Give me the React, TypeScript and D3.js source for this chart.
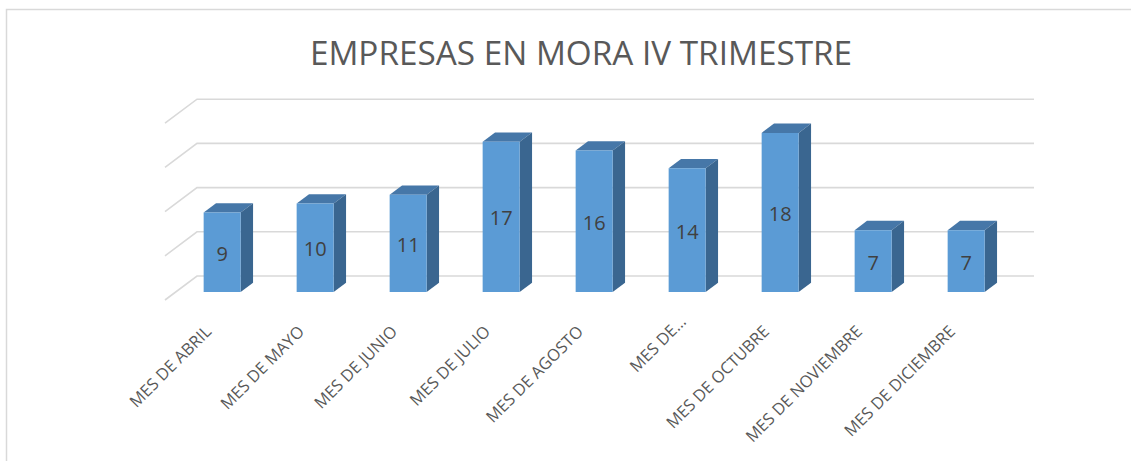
import React from "react";
import * as d3 from "d3";

const categories = [
  "MES DE ABRIL",
  "MES DE MAYO",
  "MES DE JUNIO",
  "MES DE JULIO",
  "MES DE AGOSTO",
  "MES DE…",
  "MES DE OCTUBRE",
  "MES DE NOVIEMBRE",
  "MES DE DICIEMBRE",
];
const values = [9, 10, 11, 17, 16, 14, 18, 7, 7];
const gridValues = [0, 5, 10, 15, 20];
const title = "EMPRESAS EN MORA IV TRIMESTRE";

const App = () => {
  const W = 1131;
  const H = 461;

  // floor front edge and 3d depth offset
  const floorLeft = 165;
  const floorRight = 1002;
  const floorY = 300;
  const depthX = 32;
  const depthY = 24;
  const zFront = 0.333;
  const zBack = 0.72;

  const x = d3
    .scaleBand()
    .domain(categories)
    .range([floorLeft, floorRight])
    .paddingInner(0.602)
    .paddingOuter(0.301);

  const y = d3.scaleLinear().domain([0, 20]).range([0, 176.8]);

  // oblique projection: (x on front plane, value, depth 0..1)
  const proj = (px: number, v: number, z: number): [number, number] => [
    px + depthX * z,
    floorY - y(v) - depthY * z,
  ];

  const pts = (arr: [number, number][]) => arr.map((p) => p.join(",")).join(" ");

  return (
    <svg
      width={W}
      height={H}
      style={{ position: "absolute", left: 0, top: 0, background: "#fff" }}
    >
      <rect x={6.5} y={9.5} width={W} height={H} fill="#fff" stroke="#d9d9d9" strokeWidth={1.5} />

      <text
        x={581}
        y={65}
        textAnchor="middle"
        fontFamily="'Open Sans', sans-serif"
        fontSize={33.3}
        fill="#595959"
      >
        {title}
      </text>

      {/* gridlines */}
      <g stroke="#d9d9d9" strokeWidth={1.6} fill="none">
        {gridValues.map((v) => {
          const a = proj(floorLeft, v, 0);
          const b = proj(floorLeft, v, 1);
          const c = proj(floorRight, v, 1);
          return <polyline key={v} points={pts([a, b, c])} />;
        })}
      </g>

      {/* bars */}
      {values.map((v, i) => {
        const x0 = x(categories[i]) as number;
        const x1 = x0 + x.bandwidth();
        const fl = proj(x0, v, zFront);
        const fr = proj(x1, v, zFront);
        const frb = proj(x1, 0, zFront);
        const bl = proj(x0, v, zBack);
        const br = proj(x1, v, zBack);
        const brb = proj(x1, 0, zBack);
        const flb = proj(x0, 0, zFront);
        return (
          <g key={i}>
            <polygon points={pts([fl, bl, br, fr])} fill="#4677a8" />
            <polygon points={pts([fr, br, brb, frb])} fill="#3a6690" />
            <polygon points={pts([fl, fr, frb, flb])} fill="#5b9bd5" />
            <text
              x={(fl[0] + fr[0]) / 2}
              y={(fl[1] + flb[1]) / 2 + 1.5}
              dy="0.35em"
              textAnchor="middle"
              fontFamily="'Open Sans', sans-serif"
              fontSize={20}
              fill="#404040"
            >
              {v}
            </text>
          </g>
        );
      })}

      {/* category labels */}
      {categories.map((c) => {
        const cx = (x(c) as number) + x.bandwidth() / 2 - 3.3;
        const cy = 328.5;
        const shift = c.endsWith("…") ? 14 : 0;
        return (
          <text
            key={c}
            transform={`translate(${cx},${cy}) rotate(-45)`}
            x={shift}
            dy="0.35em"
            textAnchor="end"
            fontFamily="'Open Sans', sans-serif"
            fontSize={16.5}
            fill="#595959"
          >
            {c}
          </text>
        );
      })}
    </svg>
  );
};

export default App;
